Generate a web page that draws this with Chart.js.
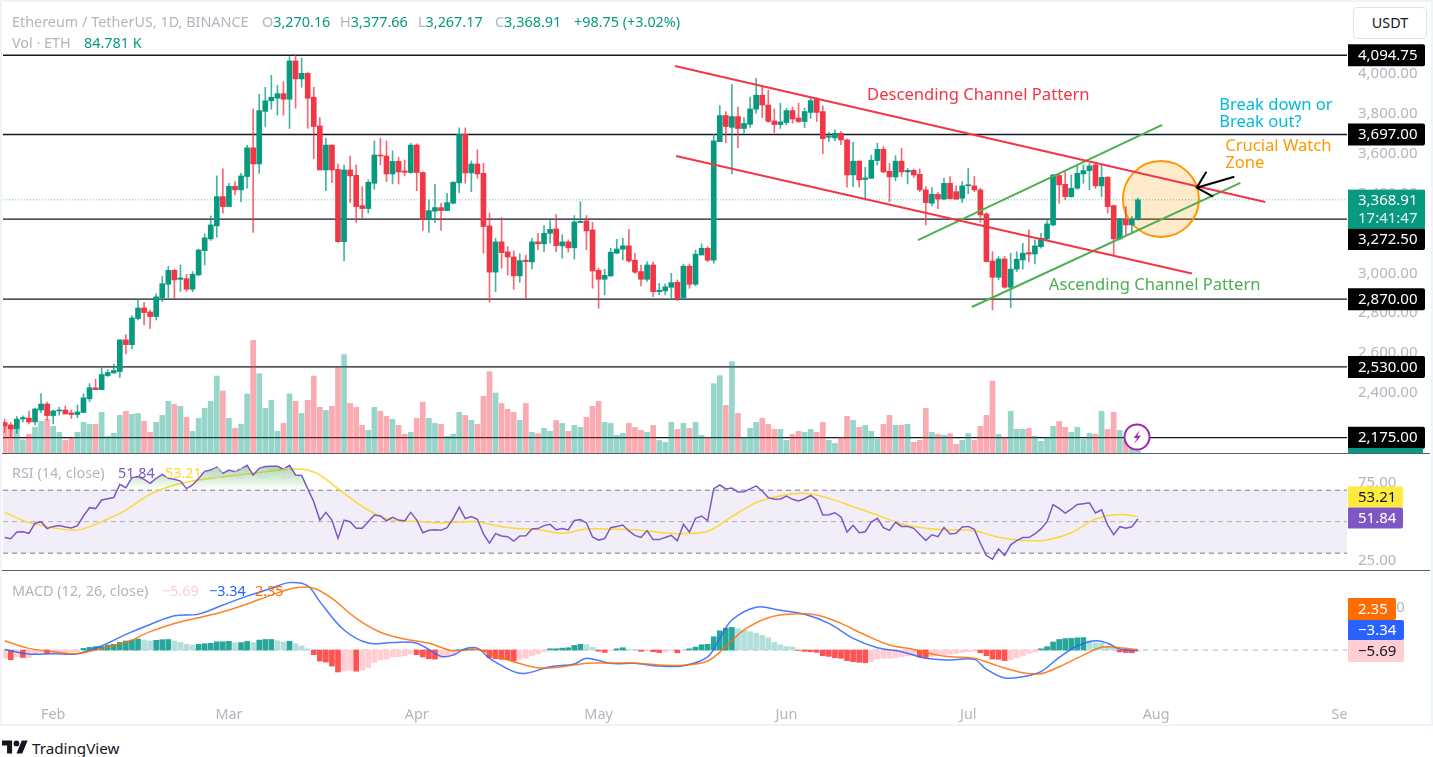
<!DOCTYPE html>
<html>
<head>
<meta charset="utf-8">
<title>ETH/USDT</title>
<script src="https://cdn.jsdelivr.net/npm/chart.js@4"></script>
<style>
html, body { margin: 0; padding: 0; background: #fff; width: 1433px; height: 757px; overflow: hidden; }
body { font-family: "Noto Sans", sans-serif; font-size: 14.4px; color: #b2b5be; }
canvas { position: absolute; left: 0; }
.t { position: absolute; white-space: nowrap; line-height: 18px; }
.up { color: #089981; }
.frame { position: absolute; left: 0; top: 0; width: 1429px; height: 722px; border: 2px solid #f0f3fa; pointer-events: none; }
.sep { position: absolute; left: 2px; width: 1428px; height: 1px; background: #5d606b; }
</style>
</head>
<body>
<canvas id="priceChart" width="1433" height="445" style="top:8px"></canvas>
<canvas id="rsiChart" width="1433" height="116" style="top:454px"></canvas>
<canvas id="macdChart" width="1433" height="152" style="top:571px"></canvas>
<div class="sep" style="top:453px"></div>
<div class="sep" style="top:570px"></div>
<div class="frame"></div>

<div class="t" style="left:12px;top:13px">Ethereum / TetherUS, 1D, BINANCE</div>
<div class="t" style="left:262px;top:13px">O<span class="up">3,270.16</span></div>
<div class="t" style="left:340px;top:13px">H<span class="up">3,377.66</span></div>
<div class="t" style="left:418px;top:13px">L<span class="up">3,267.17</span></div>
<div class="t" style="left:495px;top:13px">C<span class="up">3,368.91</span></div>
<div class="t up" style="left:574px;top:13px">+98.75 (+3.02%)</div>
<div class="t" style="left:12px;top:34px">Vol · ETH</div>
<div class="t up" style="left:84px;top:34px">84.781 K</div>

<div style="position:absolute;left:1353px;top:7px;width:72px;height:30px;border:1px solid #e0e3eb;border-radius:4px;background:#fff;color:#131722;text-align:center;line-height:30px">USDT</div>

<div class="t" style="left:12px;top:464px">RSI (14, close)</div>
<div class="t" style="left:118px;top:464px;color:#7e57c2">51.84</div>
<div class="t" style="left:165px;top:464px;color:#fdd835">53.21</div>
<div class="t" style="left:211px;top:464px;letter-spacing:11px;color:#d1d4dc">∅∅∅∅</div>
<div class="t" style="left:12px;top:582px">MACD (12, 26, close)</div>
<div class="t" style="left:162px;top:582px;color:#ffcdd2">−5.69</div>
<div class="t" style="left:209px;top:582px;color:#2962ff">−3.34</div>
<div class="t" style="left:255px;top:582px;color:#ff6d00">2.35</div>

<svg style="position:absolute;left:1123px;top:423px" width="28" height="28" viewBox="0 0 28 28">
  <circle cx="14" cy="14" r="12.5" fill="#fff" stroke="#9c27b0" stroke-width="2"/>
  <path d="M17 7l-6.5 8h3.6l-3.1 6 7-8.2h-3.7z" fill="#9c27b0"/>
</svg>

<svg style="position:absolute;left:2px;top:740px" width="26" height="14" viewBox="0 4 36 18"><path fill="#131722" d="M14 22H7V11H0V4h14v18zM28 22h-8l7.5-18h8L28 22z"/><circle fill="#131722" cx="20" cy="8" r="4"/></svg>
<div class="t" style="left:32px;top:739px;color:#131722;font-size:15.2px">TradingView</div>

<script>
// daily candles, first one is Jan 24
const opens = [2251,2239,2219,2269,2273,2254,2314,2344,2286,2309,2314,2299,2291,2301,2370,2425,2416,2487,2500,2507,2666,2642,2773,2826,2806,2783,2878,2945,3015,2970,2973,2920,2992,3114,3173,3238,3385,3335,3437,3419,3486,3630,3549,3813,3866,3879,3902,3874,4066,3976,4004,3884,3740,3519,3644,3522,3159,3519,3492,3340,3325,3452,3594,3589,3499,3562,3514,3506,3644,3506,3272,3312,3330,3315,3352,3454,3698,3504,3549,3502,3238,3006,3158,3108,3082,2987,3066,3057,3158,3148,3201,3223,3138,3158,3128,3255,3263,3218,3015,2970,2987,3101,3121,3138,3066,3009,2970,3042,2908,2912,2930,2955,2878,3036,2945,3092,3126,3066,3661,3792,3733,3787,3727,3748,3824,3894,3845,3765,3747,3757,3817,3780,3762,3808,3874,3812,3683,3680,3703,3670,3494,3563,3471,3477,3566,3623,3512,3484,3563,3509,3517,3497,3419,3352,3397,3373,3452,3410,3377,3440,3439,3419,3298,3062,2980,3072,2930,3021,3067,3104,3097,3134,3173,3243,3491,3447,3385,3427,3499,3516,3544,3439,3482,3340,3173,3271,3243,3270.16];
const highs = [2269,2251,2281,2284,2309,2323,2396,2354,2314,2328,2334,2314,2339,2396,2446,2468,2530,2517,2544,2666,2691,2788,2870,2855,2816,2897,2984,3035,3020,3042,2995,3009,3122,3198,3288,3489,3524,3452,3460,3502,3643,3824,3899,3934,3994,3944,3962,4088,4096,4080,4008,3934,3782,3678,3644,3549,3544,3589,3544,3435,3469,3665,3678,3665,3615,3583,3569,3653,3650,3509,3369,3447,3352,3402,3460,3730,3730,3564,3620,3553,3302,3176,3280,3135,3112,3098,3092,3176,3201,3240,3265,3295,3193,3168,3290,3360,3290,3256,3026,3021,3126,3171,3176,3221,3101,3042,3059,3056,2950,2947,3000,2967,3046,3047,3117,3148,3134,3698,3842,3812,3949,3834,3782,3885,3979,3941,3920,3825,3854,3828,3834,3854,3829,3885,3882,3840,3708,3720,3711,3675,3658,3563,3532,3593,3653,3636,3552,3591,3628,3527,3524,3524,3435,3430,3405,3477,3486,3439,3461,3527,3486,3427,3305,3109,3084,3084,3101,3109,3151,3218,3168,3201,3265,3497,3502,3511,3494,3544,3544,3552,3552,3544,3486,3343,3277,3335,3285,3377.66];
const lows = [2201,2177,2197,2254,2244,2239,2301,2264,2244,2288,2294,2271,2275,2301,2356,2416,2416,2482,2498,2478,2595,2621,2766,2741,2723,2766,2858,2878,2871,2910,2910,2908,2987,3042,3165,3181,3302,3335,3394,3360,3427,3205,3502,3737,3824,3794,3794,3727,3829,3934,3728,3576,3519,3415,3455,3155,3064,3355,3255,3277,3302,3422,3544,3460,3449,3449,3489,3502,3415,3215,3205,3255,3215,3315,3348,3405,3452,3410,3477,3101,2855,2908,3026,2992,2920,2955,2872,3022,3118,3109,3151,3109,3076,3106,3072,3255,3118,2925,2825,2892,2984,3098,3067,3056,3000,2937,2959,2883,2892,2892,2870,2863,2870,2925,2937,3092,3059,3051,3661,3656,3499,3631,3703,3733,3803,3782,3757,3706,3727,3745,3753,3757,3731,3778,3762,3601,3661,3666,3646,3432,3435,3432,3368,3477,3544,3506,3360,3465,3486,3449,3482,3410,3243,3338,3325,3368,3372,3372,3355,3400,3410,3255,3056,2816,2967,2925,2828,3009,3021,3057,3047,3126,3168,3238,3352,3369,3382,3422,3452,3419,3427,3385,3302,3092,3168,3193,3201,3267.17];
const closes = [2234,2219,2268,2276,2254,2319,2344,2286,2309,2314,2294,2291,2304,2375,2426,2416,2492,2502,2512,2666,2642,2776,2826,2803,2783,2882,2948,3015,2967,2977,2920,2995,3117,3178,3243,3385,3335,3437,3419,3489,3630,3549,3817,3866,3884,3902,3874,4066,3976,4004,3879,3737,3519,3644,3519,3159,3519,3489,3335,3325,3457,3594,3589,3499,3562,3509,3507,3644,3506,3272,3315,3330,3315,3355,3457,3698,3504,3549,3499,3235,3006,3158,3104,3082,2987,3064,3059,3158,3148,3201,3221,3139,3158,3128,3258,3261,3213,3012,2970,2990,3106,3122,3138,3062,3006,2970,3042,2908,2915,2932,2953,2875,3036,2945,3096,3126,3066,3665,3792,3737,3787,3727,3752,3825,3894,3845,3763,3747,3760,3817,3775,3762,3812,3867,3808,3676,3690,3703,3670,3494,3563,3469,3479,3568,3623,3509,3484,3563,3509,3517,3494,3419,3355,3397,3373,3452,3375,3372,3439,3445,3419,3293,3059,2980,3072,2930,3021,3071,3101,3097,3138,3176,3248,3494,3444,3385,3427,3502,3516,3539,3439,3482,3335,3173,3271,3243,3271,3368.91];
const volumes = [311,293,247,141,198,272,336,357,283,219,134,163,219,325,304,304,431,177,208,399,442,410,420,336,219,325,399,548,516,495,378,230,367,473,548,816,657,367,261,304,625,1194,841,473,558,230,314,625,548,420,558,816,484,452,495,908,1042,526,484,293,240,484,442,389,357,293,198,219,367,537,367,314,304,177,198,431,399,346,304,601,862,636,526,463,431,346,526,219,205,261,230,346,314,230,293,272,378,495,548,325,314,187,208,314,272,240,219,293,134,113,325,251,314,261,325,187,166,735,820,505,968,420,166,261,325,367,304,251,251,134,198,230,219,251,219,325,134,102,166,389,346,272,293,230,145,304,399,293,293,304,113,134,473,219,198,187,205,92,134,205,134,283,399,763,198,163,442,251,251,261,177,124,163,283,336,272,219,272,145,208,198,442,251,431,240,134,64,84.781];
const rsiValues = [40,39.2,43.4,43.6,42.6,49,50,45.6,47,47.5,46.6,46,47.5,53.6,58.9,58.3,63.8,64.6,65.3,73.7,71.6,78,78.6,76.9,74.4,77.5,80,77.5,76.9,75.8,71,73.3,77.5,82,82.8,84.7,80.7,82.8,81.8,83.5,85.8,79.7,83.9,85,85.2,85.2,83.3,85.8,79.7,79.4,71,62.7,51,55.9,51,39.4,51,50,45.8,45.8,50,54.2,53.6,50.6,52.8,51,50.4,55.9,51,43,44.5,44.9,44.5,46.2,52,59.3,52,53.2,51.5,42.2,36.4,42.4,40.9,40.5,37.7,40.9,41.1,45.3,45.6,47.5,48.3,44.9,45.6,44.7,50.8,51.3,49.2,40.3,38.3,39.2,46.2,47,47.9,44.1,41.3,40,44.3,38.6,38.6,40,41.3,37.9,48.3,43.4,52.1,53.6,50.6,71,73.3,70.8,71.4,68.9,69,70.8,72.7,69.5,65.3,64.2,64.4,66.3,64.2,63.1,64.6,66.7,63.8,54.2,54.4,55.7,53,43.4,47.7,43,43.6,49.8,52.1,46.2,44.5,49.6,47,47,45.8,41.9,38.1,41.7,40.5,46.4,42.2,42.6,46.6,47,45.2,36.3,28.5,26.2,32.7,28.5,35.3,38,39.9,39.9,42.2,45.4,50,60.9,58.4,55.5,58,60.9,61.4,62,55.5,57.6,47.9,41.8,46.8,45.8,46.8,51.84];
const rsiMaDays = [0,4,8,12,16,20,24,28,32,36,40,44,48,50,52,56,60,64,68,72,76,78,80,84,88,92,96,100,104,108,112,116,120,124,128,132,136,140,144,148,152,156,160,164,168,172,176,180,184,187];
const rsiMaValues = [55.9,49.4,46.2,44.7,50,57.4,67.4,73.3,76.5,78.6,80.3,82.2,83.5,82.8,79.7,68,57.4,51,50.2,49.2,50,50,48.3,45.8,45.1,42.6,45.3,45.3,44.9,43.2,42.4,43.9,53.2,62.1,66.5,68,64.8,59.5,54.2,48.5,45.8,44.7,44.3,40.1,38,38.4,43,51.7,54.6,53.21];
const histValues = [-39,-46,-32,-35,-35,-19,-11,-16,-11,-11,-11,-8,-8,8,13,16,17,24,27,36,43,47,52,47,43,46,49,50,43,36,27,24,27,30,32,39,39,41,35,35,41,35,47,50,50,44,38,41,30,19,6,-22,-52,-57,-76,-104,-99,-95,-100,-95,-82,-58,-47,-43,-32,-32,-27,-19,-22,-33,-41,-43,-38,-32,-24,2,3,5,3,-6,-36,-41,-44,-46,-52,-43,-39,-27,-19,-8,6,6.5,9,11,22,27,25,13,-5,-11,-2,6,11,3,2,-6,-2,-8,-12,-8,-3,-13,-3,6,14,25,27,63,91,104,107,101,93,87,80,69,58,36,25,17,14,-2,-6,-8,-11,-27,-30,-36,-39,-50,-55,-58,-60,-55,-43,-39,-39,-36,-32,-28,-25,-33,-35,-30,-28,-24,-20,-16,-11,-8,-6,-13,-27,-43,-44,-50,-46,-36,-28,-16,-9,6,16,38,50,54,55,58,59,44,35,32,17,9,-9,-12,-13,-5.69];
const macdDays = [0,4,8,12,16,20,24,28,32,36,40,44,47,50,52,56,60,64,68,72,74,76,78,80,84,86,90,94,96,100,104,108,112,116,118,120,124,128,132,136,140,144,148,152,156,160,162,165,168,171,174,177,180,182,184,187];
const macdValues = [3,-19,-17,-17,20,74,121,162,170,213,255,292,319,304,229,95,33,36,32,-30,-24,6,9,-39,-102,-110,-79,-66,-39,-63,-63,-76,-74,-32,55,142,203,188,169,126,55,11,-8,-39,-47,-44,-91,-132,-126,-102,-35,19,44,32,5,-3.34];
const signalDays = [0,4,8,12,16,20,24,28,32,36,40,44,48,51,54,58,62,66,70,74,78,80,84,88,92,96,100,104,108,112,116,119,122,126,130,134,138,142,146,150,154,156,160,164,168,171,174,178,181,184,187];
const signalValues = [44,8,-8,-17,8,36,87,126,153,181,218,260,295,292,244,150,84,52,32,-3,3,-16,-55,-84,-79,-62,-62,-62,-71,-72,-52,16,95,153,170,166,126,71,24,3,-24,-32,-39,-76,-107,-112,-79,-24,13,11,2.35];
const levels = [4094.75, 3697, 3272.5, 2870, 2530, 2175];
const lastPrice = 3368.91;
const monthDays = [8, 37, 68, 98, 129, 159, 190, 221];
const monthNames = ['Feb', 'Mar', 'Apr', 'May', 'Jun', 'Jul', 'Aug', 'Sep'];
const priceTicks = [2200, 2400, 2600, 2800, 3000, 3200, 3400, 3600, 3800, 4000];
const rsiTicks = [25, 75];
const macdTicks = [0, 200];

// trend lines as [day, price]
const descendingUpper = [[110.6, 4041], [208, 3358]];
const descendingLower = [[110.8, 3589], [195.9, 2999]];
const ascendingUpper = [[150.7, 3167], [191, 3745]];
const ascendingLower = [[159.6, 2831], [203.9, 3454]];
const watchZone = [[190.8, 3373]];
const arrowHead = [[198.3, 3510], [196.7, 3430], [199.4, 3385]];
const arrowTail = [[196.7, 3430], [202.9, 3485]];
const notes = [
    ['Descending Channel Pattern', 142.3, 3895, '#f23645'],
    ['Ascending Channel Pattern', 172.3, 2942, '#4caf50'],
    ['Break down or', 200.4, 3845, '#00bcd4'],
    ['Break out?', 200.4, 3760, '#00bcd4'],
    ['Crucial Watch', 201.4, 3639, '#ff9800'],
    ['Zone', 201.4, 3554, '#ff9800']
];

const FONT = '"Noto Sans", sans-serif';
const X_MIN = -0.28, X_MAX = 221.5;
const GREEN = '#089981', RED = '#f23645';
const isUp = i => closes[i] >= opens[i];
const toPoints = pairs => pairs.map(([x, y]) => ({ x, y }));
const zip = (xs, ys) => xs.map((x, i) => ({ x, y: ys[i] }));
const series = ys => ys.map((y, i) => ({ x: i, y }));
const flat = y => [{ x: X_MIN, y }, { x: X_MAX, y }];

function line(data, color, width, order, extra) {
    return Object.assign({ type: 'line', data, borderColor: color, borderWidth: width, pointRadius: 0, order, fill: false }, extra);
}

function tag(ctx, x, y, w, h, bg, fg, text) {
    ctx.fillStyle = bg;
    ctx.beginPath();
    ctx.roundRect(x, y - h / 2, w, h, [0, 2, 2, 0]);
    ctx.fill();
    ctx.fillStyle = fg;
    ctx.font = '15px ' + FONT;
    ctx.textAlign = 'left';
    ctx.textBaseline = 'middle';
    ctx.fillText(text, x + 10, y + 0.5);
}

function xAxis(show) {
    const axis = {
        type: 'linear', min: X_MIN, max: X_MAX, display: show, offset: false,
        grid: { display: false, offset: false }, border: { display: false },
        afterBuildTicks: scale => { scale.ticks = monthDays.map(value => ({ value })); },
        ticks: {
            autoSkip: false, maxRotation: 0, color: '#b2b5be', padding: 8, font: { family: FONT, size: 14.4 },
            callback: value => monthNames[monthDays.indexOf(value)]
        }
    };
    axis.afterFit = scale => {
        scale.height = show ? 33 : 0;
        scale.paddingLeft = 0;
        scale.paddingRight = 0;
    };
    return axis;
}

function yAxis(min, max, tickValues, digits) {
    return {
        position: 'right', min, max, offset: false,
        grid: { display: false, drawTicks: false }, border: { display: false },
        afterBuildTicks: scale => { scale.ticks = tickValues.map(value => ({ value })); },
        afterFit: scale => { scale.width = 86; scale.paddingTop = 0; scale.paddingBottom = 0; },
        ticks: {
            color: '#b2b5be', padding: 11, autoSkip: false, font: { family: FONT, size: 15 },
            callback: value => value.toLocaleString('en-US', { minimumFractionDigits: digits, maximumFractionDigits: digits })
        }
    };
}

const baseOptions = {
    responsive: false, animation: false, devicePixelRatio: 1,
    // the watch zone point has a big radius, it must not push the plot area in
    layout: { autoPadding: false, padding: { left: 3, right: 0, top: 0, bottom: 0 } },
    plugins: { legend: { display: false }, tooltip: { enabled: false } }
};

const priceNotes = {
    id: 'priceNotes',
    afterDatasetsDraw(chart) {
        const { ctx, scales: { x, y } } = chart;
        ctx.save();
        ctx.font = '16.6px ' + FONT;
        ctx.textAlign = 'left';
        ctx.textBaseline = 'middle';
        notes.forEach(([text, day, price, color]) => {
            ctx.fillStyle = color;
            ctx.fillText(text, x.getPixelForValue(day), y.getPixelForValue(price));
        });
        ctx.restore();
    },
    afterDraw(chart) {
        const { ctx, scales: { y } } = chart;
        const left = chart.chartArea.right + 1;
        ctx.save();
        levels.forEach(level => {
            // the 3,272.50 label sits pushed down under the last price label
            const shift = level === 3272.5 ? 20 : 0;
            tag(ctx, left, y.getPixelForValue(level) + shift, 77, 22, '#000', '#fff', level.toLocaleString('en-US', { minimumFractionDigits: 2 }));
        });
        const py = y.getPixelForValue(lastPrice);
        ctx.fillStyle = GREEN;
        ctx.fillRect(left, py - 10, 77, 39);
        ctx.fillRect(left, 440, 75, 5);
        tag(ctx, left, py, 77, 20, GREEN, '#fff', '3,368.91');
        tag(ctx, left, py + 18, 77, 20, GREEN, '#e8f5f3', '17:41:47');
        ctx.restore();
    }
};

new Chart(document.getElementById('priceChart'), {
    data: {
        datasets: [
            ...levels.map(level => line(flat(level), '#131722', 1.3, 9)),
            { type: 'bar', yAxisID: 'vol', data: series(volumes), backgroundColor: volumes.map((v, i) => isUp(i) ? 'rgba(8,153,129,0.42)' : 'rgba(242,54,69,0.42)'), barThickness: 5, grouped: false, order: 8 },
            line(toPoints(watchZone), '#ff9800', 0, 7.5, { pointRadius: 38, pointBorderWidth: 2, pointBorderColor: '#ff9800', pointBackgroundColor: 'rgba(255,152,0,0.2)' }),
            { type: 'bar', data: highs.map((h, i) => ({ x: i, y: [lows[i], h] })), backgroundColor: highs.map((h, i) => isUp(i) ? 'rgba(8,153,129,0.75)' : 'rgba(242,54,69,0.75)'), barThickness: 1, grouped: false, order: 7 },
            { type: 'bar', data: opens.map((o, i) => ({ x: i, y: [o, closes[i]] })), backgroundColor: opens.map((o, i) => isUp(i) ? GREEN : RED), barThickness: 5, minBarLength: 1, grouped: false, order: 6 },
            line(flat(lastPrice), 'rgba(8,153,129,0.6)', 1, 5, { borderDash: [1, 2] }),
            line(toPoints(descendingUpper), '#f23645', 2, 3),
            line(toPoints(descendingLower), '#f23645', 2, 3),
            line(toPoints(ascendingUpper), '#4caf50', 2, 3),
            line(toPoints(ascendingLower), '#4caf50', 2, 3),
            line(toPoints(arrowHead), '#000', 2, 2),
            line(toPoints(arrowTail), '#000', 2, 2)
        ]
    },
    options: Object.assign({}, baseOptions, {
        scales: {
            x: xAxis(false),
            y: yAxis(2098, 4332, priceTicks, 2),
            vol: { display: false, min: 0, max: 4717, offset: false }
        }
    }),
    plugins: [priceNotes]
});

const rsiChart = new Chart(document.getElementById('rsiChart'), {
    data: {
        datasets: [
            line(flat(70), '#787b86', 1, 6, { borderDash: [5, 4], fill: { target: { value: 30 }, above: 'rgba(126,87,194,0.1)', below: 'rgba(126,87,194,0.1)' } }),
            line(flat(50), '#b2b5be', 1, 6, { borderDash: [5, 4] }),
            line(flat(30), '#787b86', 1, 6, { borderDash: [5, 4] }),
            line(series(rsiValues), '#7e57c2', 1.5, 4, { fill: { target: { value: 70 }, above: 'rgba(76,175,80,0.3)', below: 'rgba(0,0,0,0)' } }),
            line(zip(rsiMaDays, rsiMaValues), '#fdd835', 1.5, 5, { tension: 0.35 })
        ]
    },
    options: Object.assign({}, baseOptions, {
        scales: { x: xAxis(false), y: yAxis(19.3, 93, rsiTicks, 2) }
    }),
    plugins: [{
        id: 'rsiTags',
        afterDraw(chart) {
            const { ctx } = chart;
            const left = chart.chartArea.right + 1;
            tag(ctx, left, 43, 55, 21, '#ffeb3b', '#131722', '53.21');
            tag(ctx, left, 64, 55, 21, '#7e57c2', '#fff', '51.84');
        }
    }]
});
// overbought fill fades out towards the 70 line
const obFill = rsiChart.ctx.createLinearGradient(0, 8, 0, 36);
obFill.addColorStop(0, 'rgba(76,175,80,0.55)');
obFill.addColorStop(1, 'rgba(76,175,80,0)');
rsiChart.data.datasets[3].fill.above = obFill;
rsiChart.update('none');

function histColor(v, i) {
    const prev = i ? histValues[i - 1] : v;
    if (v >= 0) return v >= prev ? '#26a69a' : '#b2dfdb';
    return v < prev ? '#ff5252' : '#ffcdd2';
}

new Chart(document.getElementById('macdChart'), {
    data: {
        datasets: [
            line(flat(0), '#b2b5be', 1, 6, { borderDash: [5, 5] }),
            { type: 'bar', data: series(histValues), backgroundColor: histValues.map(histColor), barThickness: 5, grouped: false, order: 5 },
            line(zip(macdDays, macdValues), '#2962ff', 1.5, 3, { tension: 0.35, borderColor: 'rgba(41,98,255,0.85)' }),
            line(zip(signalDays, signalValues), '#ff6d00', 1.5, 2, { tension: 0.35, borderColor: 'rgba(255,109,0,0.85)' })
        ]
    },
    options: Object.assign({}, baseOptions, {
        scales: { x: xAxis(true), y: yAxis(-189, 374, macdTicks, 2) }
    }),
    plugins: [{
        id: 'macdTags',
        afterDraw(chart) {
            const { ctx, chartArea } = chart;
            const left = chartArea.right + 1;
            // the time axis stops where the price column starts, cutting "Sep"
            ctx.fillStyle = '#fff';
            ctx.fillRect(chartArea.right, chartArea.bottom, 90, 40);
            tag(ctx, left, 38, 48, 22, '#ff6d00', '#fff', '2.35');
            tag(ctx, left, 59, 56, 20, '#2962ff', '#fff', '−3.34');
            tag(ctx, left, 80, 56, 22, '#ffcdd2', '#131722', '−5.69');
        }
    }]
});
</script>
</body>
</html>
